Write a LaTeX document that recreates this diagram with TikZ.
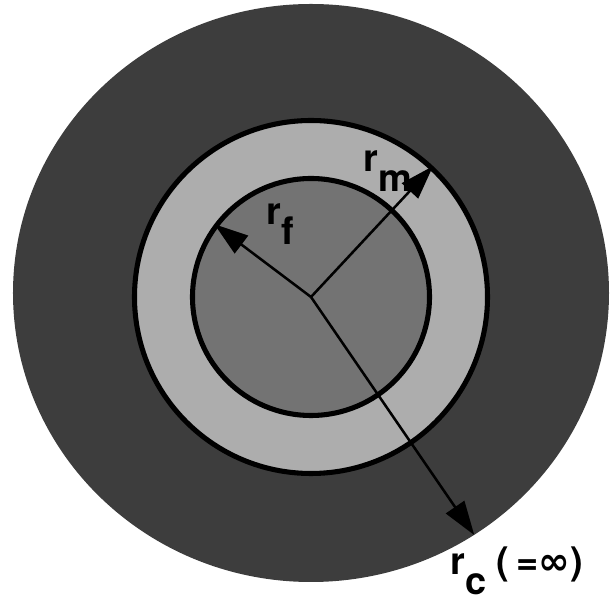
\documentclass[tikz,border=0pt]{standalone}
\usepackage{fontspec}
\setmainfont{TeX Gyre Heros}
\newfontfamily\symfont{DejaVu Sans}
\usetikzlibrary{arrows.meta, shapes.geometric}
\newcommand{\rsub}[2]{#1\raisebox{-0.48cm}{#2}}

\begin{document}
\begin{tikzpicture}[
  ring/.style={circle, draw, line width=3.6pt, inner sep=0pt},
  arr/.style={-{Triangle[length=0.85cm, width=0.55cm]}, line width=1.8pt},
  lbl/.style={font=\fontsize{27}{32}\selectfont\bfseries, inner sep=0pt, anchor=base west},
]
  \useasboundingbox (-7.775,-7.625) rectangle (7.525,7.425);

  % Regions
  \node[ellipse, fill=black!76, minimum width=14.9cm, minimum height=14.45cm, inner sep=0pt] (medium) at (0,0.1) {};
  \node[ring, fill=black!32, minimum size=8.825cm] (matrix) at (0,0) {};
  \node[ring, fill=black!55, minimum size=5.925cm] (fiber) at (0,0) {};
  \coordinate (ctr) at (0,0);

  % Radii
  \draw[arr] (ctr) -- (fiber.143);
  \draw[arr] (ctr) -- (matrix.47);
  \draw[arr] (ctr) -- (medium.-56.6);

  % Labels
  \node[lbl] (rf) at (-1.125,1.8) {\rsub{r}{f}};
  \node[lbl] (rm) at (1.3,3.125) {\rsub{r}{m}};
  \node[lbl] (rc) at (3.475,-6.95) {\rsub{r}{c}\hspace{0.25cm}(\hspace{0.2cm}={\symfont ∞})};
\end{tikzpicture}
\end{document}
